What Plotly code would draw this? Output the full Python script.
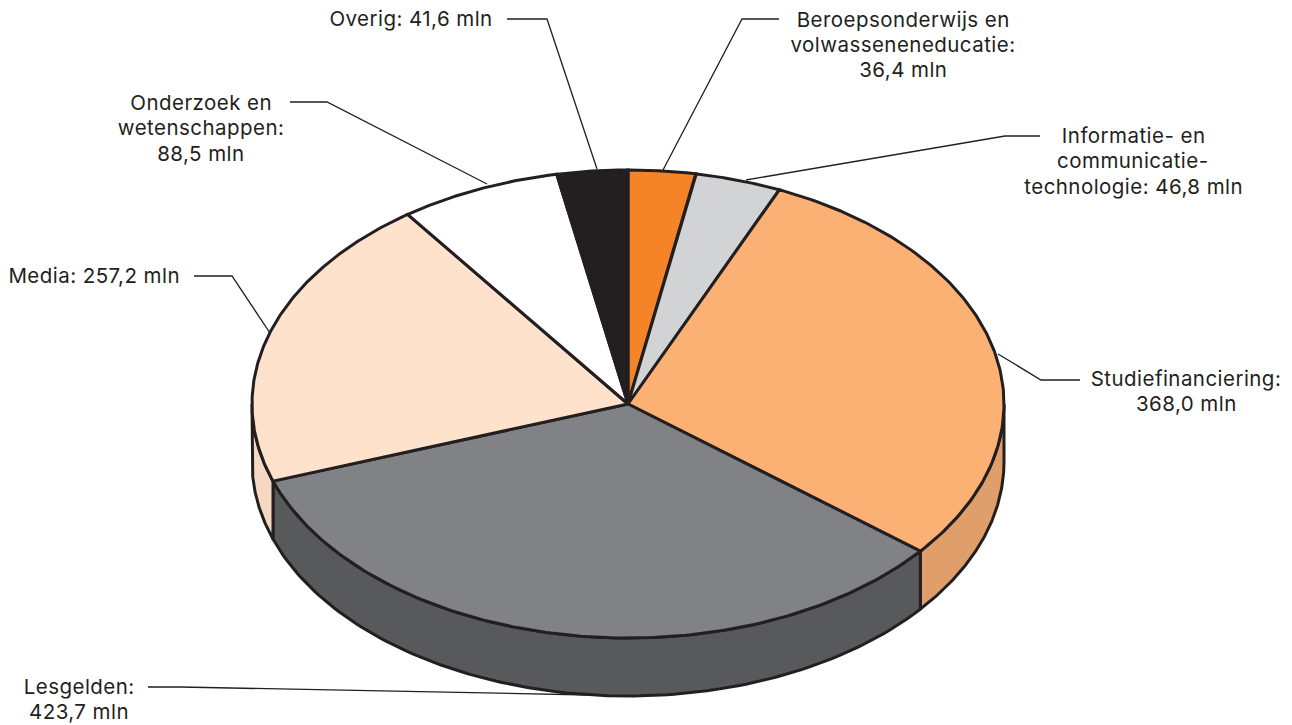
import numpy as np
import plotly.graph_objects as go

# --- data, clockwise from twelve o'clock ---
categories = ["Beroepsonderwijs en volwasseneneducatie", "Informatie- en communicatietechnologie",
              "Studiefinanciering", "Lesgelden", "Media", "Onderzoek en wetenschappen", "Overig"]
# amounts as printed on the labels
values = [36.4, 46.8, 368.0, 423.7, 257.2, 88.5, 41.6]
# slice sizes as actually drawn in the picture (measured from the slice boundaries)
drawn_values = [36.4, 46.8, 369.0, 427.0, 257.2, 87.5, 38.3]
top_colors = ["#F58428", "#D1D3D4", "#FBB074", "#808285", "#FEE2CB", "#FFFFFF", "#231F20"]
side_colors = [None, None, "#E09E6A", "#58595B", "#F4D8C1", None, None]
label_lines = [
    ["Beroepsonderwijs en", "volwasseneneducatie:", "{} mln"],
    ["Informatie- en", "communicatie-", "technologie: {} mln"],
    ["Studiefinanciering:", "{} mln"],
    ["Lesgelden:", "{} mln"],
    ["Media: {} mln"],
    ["Onderzoek en", "wetenschappen:", "{} mln"],
    ["Overig: {} mln"],
]

# --- projection of the tilted disc in the pixel-scaled axes ---
CX, CY, RX, RY, DEPTH = 628, 404, 376, 234, 58
INK = "#231F20"
LW = 3


def rim(t, drop=0):
    return CX + RX * np.sin(t), CY - RY * np.cos(t) + drop


fig = go.Figure()
edges = np.concatenate([[0], np.cumsum(drawn_values)]) / np.sum(drawn_values) * 2 * np.pi
FRONT_A, FRONT_B = np.pi / 2, 3 * np.pi / 2

# side walls
for i, (a, b) in enumerate(zip(edges[:-1], edges[1:])):
    lo, hi = max(a, FRONT_A), min(b, FRONT_B)
    if hi <= lo or side_colors[i] is None:
        continue
    t = np.linspace(lo, hi, 120)
    xt, yt = rim(t)
    xb, yb = rim(t[::-1], DEPTH)
    fig.add_trace(go.Scatter(
        x=np.concatenate([xt, xb, xt[:1]]), y=np.concatenate([yt, yb, yt[:1]]),
        mode="lines", fill="toself", fillcolor=side_colors[i],
        line=dict(color=INK, width=LW), hoverinfo="skip", showlegend=False))

# top face
for i, (a, b) in enumerate(zip(edges[:-1], edges[1:])):
    t = np.linspace(a, b, 160)
    xt, yt = rim(t)
    fig.add_trace(go.Scatter(
        x=np.concatenate([[CX], xt, [CX]]), y=np.concatenate([[CY], yt, [CY]]),
        mode="lines", fill="toself", fillcolor=top_colors[i],
        line=dict(color=INK, width=LW), name=categories[i],
        hoverinfo="name", showlegend=False))

# leader lines
leaders = [
    ([779, 742, 663], [19, 19, 170]),
    ([1040, 1005, 746], [136, 136, 180]),
    ([1080, 1041, 998], [380, 380, 354]),
    ([148, 180, 590], [687, 687, 695]),
    ([194, 232, 270], [276, 276, 333]),
    ([290, 327, 487], [102, 102, 184]),
    ([507, 547, 597], [19, 19, 169]),
]
for lx, ly in leaders:
    fig.add_trace(go.Scatter(x=lx, y=ly, mode="lines", line=dict(color=INK, width=1.3),
                             hoverinfo="skip", showlegend=False))

# labels: centre x and the centre y of each line
label_x = [903, 1133, 1186, 79, 94, 201, 411]
label_y = [[19, 44, 69], [135, 160, 186], [378, 403], [686, 711], [275], [102, 127, 153], [18]]
for lines, v, x, ys in zip(label_lines, values, label_x, label_y):
    amount = f"{v:.1f}".replace(".", ",")
    for line, y in zip(lines, ys):
        fig.add_annotation(x=x, y=y, text=line.format(amount), showarrow=False,
                           xanchor="center", yanchor="middle",
                           font=dict(family="Inter", size=20.5, color=INK))

fig.update_layout(
    width=1292, height=725, margin=dict(l=0, r=0, t=0, b=0),
    paper_bgcolor="white", plot_bgcolor="white", showlegend=False,
    xaxis=dict(range=[0, 1292], visible=False, fixedrange=True),
    yaxis=dict(range=[725, 0], visible=False, fixedrange=True),
)
post = ("document.body.style.margin='0';"
        "var s=document.createElement('style');"
        "s.textContent='.annotation-text{letter-spacing:0.45px;}';"
        "document.head.appendChild(s);")
fig.write_html("out.html", post_script=post, config={"displayModeBar": False})
